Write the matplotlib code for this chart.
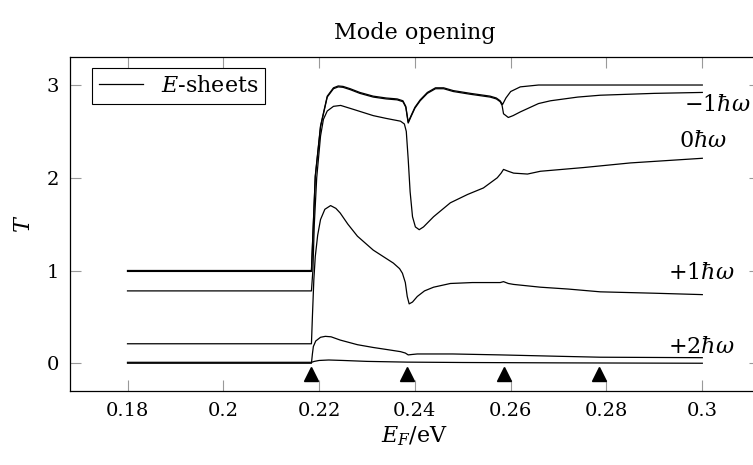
import matplotlib
matplotlib.use("Agg")
import matplotlib.pyplot as plt

plt.rcParams["font.family"] = "DejaVu Serif"
plt.rcParams["mathtext.fontset"] = "dejavuserif"

# transmission curves T(E_F), one per sheet
x_tot_a = [0.18, 0.2184, 0.2186, 0.2192, 0.2203, 0.2217, 0.2230, 0.2240, 0.2250, 0.2265,
           0.2285, 0.2313, 0.2340, 0.2363, 0.2375, 0.2381, 0.2386, 0.2392, 0.2400, 0.2411,
           0.2426, 0.2443, 0.2460, 0.2480, 0.2516, 0.2557, 0.2570, 0.2578, 0.2583, 0.2590,
           0.2600, 0.2620, 0.2658, 0.2700, 0.2800, 0.3000]
t_tot_a = [1.0, 1.0, 1.26, 2.02, 2.56, 2.88, 2.97, 2.99, 2.985, 2.96,
           2.92, 2.88, 2.86, 2.85, 2.83, 2.77, 2.60, 2.67, 2.76, 2.84,
           2.92, 2.97, 2.97, 2.94, 2.91, 2.88, 2.86, 2.83, 2.79, 2.86,
           2.93, 2.98, 3.0, 3.0, 3.0, 3.0]

x_tot_b = [0.18, 0.2184, 0.2186, 0.2192, 0.2203, 0.2217, 0.2230, 0.2240, 0.2250, 0.2265,
           0.2285, 0.2313, 0.2340, 0.2363, 0.2375, 0.2381, 0.2386, 0.2392, 0.2400, 0.2411,
           0.2426, 0.2443, 0.2460, 0.2480, 0.2516, 0.2557, 0.2570, 0.2578, 0.2582, 0.2585,
           0.2595, 0.2605, 0.2620, 0.2658, 0.2683, 0.2740, 0.2787, 0.2900, 0.3000]
t_tot_b = [0.99, 0.99, 1.25, 2.01, 2.55, 2.87, 2.96, 2.98, 2.975, 2.95,
           2.91, 2.87, 2.85, 2.84, 2.82, 2.76, 2.59, 2.66, 2.75, 2.83,
           2.91, 2.96, 2.96, 2.93, 2.90, 2.87, 2.85, 2.82, 2.78, 2.69,
           2.65, 2.67, 2.71, 2.80, 2.83, 2.87, 2.89, 2.91, 2.92]

x_m0 = [0.18, 0.2184, 0.2187, 0.2190, 0.2195, 0.2203, 0.2209, 0.2217, 0.2230, 0.2245,
        0.2270, 0.2313, 0.2340, 0.2370, 0.2378, 0.2382, 0.2386, 0.2390, 0.2395, 0.2401,
        0.2409, 0.2418, 0.2439, 0.2474, 0.2510, 0.2543, 0.2572, 0.2580, 0.2585, 0.2595,
        0.2606, 0.2635, 0.2662, 0.2752, 0.2850, 0.3000]
t_m0 = [0.78, 0.78, 1.0, 1.5, 2.0, 2.45, 2.63, 2.72, 2.77, 2.78,
        2.74, 2.67, 2.64, 2.61, 2.58, 2.50, 2.20, 1.85, 1.58, 1.47,
        1.44, 1.47, 1.58, 1.73, 1.82, 1.89, 2.00, 2.05, 2.09, 2.07,
        2.05, 2.04, 2.07, 2.11, 2.16, 2.21]

x_p1 = [0.18, 0.2184, 0.2186, 0.2189, 0.2192, 0.2197, 0.2203, 0.2212, 0.2224, 0.2235,
        0.2244, 0.2260, 0.2280, 0.2313, 0.2355, 0.2368, 0.2374, 0.2380, 0.2384, 0.2388,
        0.2395, 0.2405, 0.2420, 0.2439, 0.2474, 0.2520, 0.2578, 0.2585, 0.2595, 0.2606,
        0.2662, 0.2720, 0.2787, 0.2900, 0.3000]
t_p1 = [0.21, 0.21, 0.5, 0.9, 1.15, 1.38, 1.55, 1.66, 1.70, 1.67,
        1.62, 1.50, 1.37, 1.22, 1.08, 1.02, 0.97, 0.87, 0.72, 0.64,
        0.66, 0.72, 0.78, 0.82, 0.86, 0.87, 0.87, 0.88, 0.86, 0.85,
        0.82, 0.80, 0.77, 0.755, 0.74]

x_p2 = [0.18, 0.2184, 0.2186, 0.2188, 0.2193, 0.2203, 0.2213, 0.2225, 0.2244, 0.2280,
        0.2313, 0.2345, 0.2370, 0.2380, 0.2386, 0.2395, 0.2405, 0.2430, 0.2479, 0.2578,
        0.2700, 0.2787, 0.3000]
t_p2 = [0.0, 0.0, 0.10, 0.18, 0.24, 0.28, 0.29, 0.285, 0.25, 0.20,
        0.17, 0.145, 0.125, 0.11, 0.09, 0.095, 0.10, 0.10, 0.10, 0.09,
        0.075, 0.065, 0.06]

x_low = [0.18, 0.2184, 0.2190, 0.2200, 0.2220, 0.2250, 0.2300, 0.2384, 0.2500, 0.2700, 0.3000]
t_low = [0.01, 0.01, 0.02, 0.03, 0.035, 0.03, 0.02, 0.012, 0.008, 0.004, 0.0]

# subband thresholds
thresholds = [0.2184, 0.2384, 0.2585, 0.2785]

mode_labels = [r"$-1\hbar\omega$", r"$0\hbar\omega$", r"$+1\hbar\omega$", r"$+2\hbar\omega$"]
label_x = [0.3100, 0.3052, 0.3068, 0.3068]
label_y = [2.78, 2.40, 0.97, 0.17]

fs = 14
fs_big = 16
fig = plt.figure(figsize=(7.53, 4.65), dpi=100)
ax = fig.add_axes([0.093, 0.159, 0.916, 0.718])

lw = 0.9
ax.plot(x_tot_a, t_tot_a, color="black", lw=lw, label=r"$E$-sheets")
for xs, ts in [(x_tot_b, t_tot_b), (x_m0, t_m0), (x_p1, t_p1), (x_p2, t_p2), (x_low, t_low)]:
    ax.plot(xs, ts, color="black", lw=lw)

ax.plot(thresholds, [-0.12] * len(thresholds), linestyle="none", marker="^",
        color="black", markersize=10)

# mode labels, right-aligned near the end of each curve
for s, lx, ly in zip(mode_labels, label_x, label_y):
    ax.text(lx, ly, s, fontsize=fs_big, ha="right", va="center")

ax.set_xlim(0.168, 0.312)
ax.set_ylim(-0.3, 3.3)
ax.set_xticks([0.18, 0.2, 0.22, 0.24, 0.26, 0.28, 0.3])
ax.set_xticklabels(["0.18", "0.2", "0.22", "0.24", "0.26", "0.28", "0.3"])
ax.set_yticks([0, 1, 2, 3])
ax.tick_params(direction="in", length=8, width=0.8, color="#999999",
               top=True, right=True, labelsize=fs, pad=8)
for sp in ax.spines.values():
    sp.set_linewidth(0.9)

ax.set_xlabel(r"$E_F$/eV", fontsize=fs_big, labelpad=3)
ax.set_ylabel(r"$T$", fontsize=fs_big, labelpad=8)
ax.set_title("Mode opening", fontsize=fs_big, pad=13)

leg = ax.legend(loc="upper left", bbox_to_anchor=(22 / 690, 1 - 11 / 334),
                borderaxespad=0, fontsize=fs_big, handlelength=2.0, fancybox=False,
                edgecolor="black", framealpha=1, borderpad=0.3)
leg.get_frame().set_linewidth(0.8)

fig.savefig("out.png", dpi=100)
